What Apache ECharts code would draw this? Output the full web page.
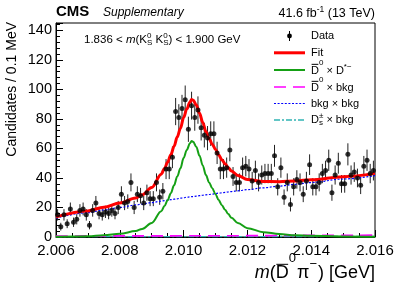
<!DOCTYPE html>
<html><head><meta charset="utf-8">
<script src="https://cdn.jsdelivr.net/npm/echarts@6/dist/echarts.min.js"></script>
<style>html,body{margin:0;padding:0;background:#fff}#c{width:399px;height:286px}</style>
</head><body><div id="c"></div>
<script>
// ---------- data ----------
const binLow = 2.006, binWidth = 0.0001;   // 100 bins of 0.1 MeV
const counts = [15,7,15,9,19,10,12,18,19,15,
  8,18,23,16,15,17,16,18,16,20,
  29,23,24,37,20,29,28,23,30,26,
  26,37,27,31,46,46,54,85,81,87,
  93,73,89,81,86,74,69,67,70,70,
  57,46,46,47,59,41,37,37,47,48,
  46,38,45,37,42,43,43,43,55,34,
  47,27,37,22,34,39,37,29,38,49,
  34,34,37,43,45,52,30,42,50,36,
  36,56,42,44,40,35,48,52,43,45];
const curveX = [2.0060,2.0070,2.0075,2.0080,2.0085,2.0087,2.0090,2.0093,2.0094,2.0095,2.0096,2.0097,2.0098,2.0099,
  2.0100,2.0101,2.0102,2.01025,2.0103,2.0104,2.0105,2.0106,2.0107,2.0108,2.0109,2.0110,2.0111,2.0112,2.0113,2.0114,
  2.0115,2.0117,2.0120,2.0125,2.0130,2.0135,2.0140,2.0150,2.0160];
const fitY = [13.6,17.7,20.2,23.0,26.5,28.6,33.6,42.6,46.4,50.7,55.8,61.4,67.7,73.6,
  80.9,86.7,91.5,93.1,92.7,89.5,83.8,77.6,71.4,66.6,62.9,59.3,55.6,52.3,49.6,46.9,
  44.7,41.7,39.0,37.6,37.5,38.0,38.8,40.9,43.1];
const sigY = [0.1,0.5,1.2,2.2,4.0,5.5,9.5,17.5,21,25,29.7,35,41,46.5,
  53.5,59,63.5,65,64.5,61,55,48.5,42,37,33,29,25,21.5,18.5,15.5,
  13,9.5,6,3.3,2,1.2,0.8,0.4,0.2];
const bkgY = [12.8,16.5,18.3,20,21.7,22.3,23.3,24.3,24.6,24.9,25.3,25.6,25.9,26.3,
  26.6,26.9,27.2,27.3,27.4,27.7,28,28.3,28.6,28.8,29.1,29.4,29.7,29.9,30.2,30.5,
  30.8,31.3,32.1,33.3,34.5,35.7,36.9,39.3,41.6];
const dbkgX = [2.006,2.008,2.010,2.012,2.014,2.016];
const dbkgY = [0.7,0.75,0.8,0.9,1.1,1.3];
const dsX = [2.006,2.011,2.016];
const dsY = [0.2,0.3,0.4];
const xTickLabels = ['2.006','2.008','2.010','2.012','2.014','2.016'];

// ---------- helpers ----------
const FONT = "'Liberation Sans', Arial, Helvetica, sans-serif";
const ctx = document.createElement('canvas').getContext('2d');
function fontStr(p, base){ return (p.it?'italic ':'') + (p.b?'bold ':'') + (p.s||base) + 'px ' + FONT; }
function meas(p, base){ ctx.font = fontStr(p, base); return ctx.measureText(p.t).width; }
function norm(p){ return typeof p === 'string' ? {t:p} : p; }
function textRow(x, y, pieces, base, align, color){
  color = color || '#000';
  pieces = pieces.map(norm);
  const widths = pieces.map(p => (p.stack ? Math.max.apply(null, p.stack.map(q=>meas(q, base))) : meas(p, base)) + (p.gap||0));
  const total = widths.reduce((a,b)=>a+b,0);
  let cx = align==='right' ? x-total : (align==='center' ? x-total/2 : x);
  const els = [];
  pieces.forEach((p,i)=>{
    (p.stack || [p]).forEach(q=>{
      const s = q.s || base, yy = y + (q.dy||0);
      els.push({type:'text', silent:true, x:cx, y:yy,
        style:{text:q.t, font:fontStr(q, base), fill:color, align:'left', verticalAlign:'middle'}});
      if (q.ov){
        const oy = yy - 0.36*s - 2.2;
        els.push({type:'line', silent:true, shape:{x1:cx+0.6, y1:oy, x2:cx+meas(q,base)-0.6, y2:oy},
          style:{stroke:color, lineWidth:1}});
      }
    });
    cx += widths[i];
  });
  return els;
}
const pair = (xs, ys) => xs.map((x,i)=>[x, ys[i]]);

// ---------- graphics: titles & legend ----------
let G = [];
G = G.concat(textRow(56, 11.9, [{t:'CMS', b:true}], 15, 'left'));
G = G.concat(textRow(103, 13, [{t:'Supplementary', it:true}], 12, 'left'));
G = G.concat(textRow(375, 13.4, ['41.6 fb', {t:'-1', s:8.5, dy:-4}, ' (13 TeV)'], 12.5, 'right'));
G = G.concat(textRow(84, 40.2, ['1.836 < ', {t:'m', it:true}, '(K', {stack:[{t:'0', s:8, dy:-4.4},{t:'S', s:8, dy:2.2}]},
  ' K', {stack:[{t:'0', s:8, dy:-4.4},{t:'S', s:8, dy:2.2}]}, ') < 1.900 GeV'], 11.5, 'left'));
// y title
G.push({type:'text', silent:true, x:12.5, y:22, rotation:Math.PI/2,
  style:{text:'Candidates / 0.1 MeV', font:'14px '+FONT, fill:'#000', align:'right', verticalAlign:'middle'}});
// x title
G = G.concat(textRow(375, 273, [{t:'m', it:true}, '(', {t:'D', ov:true}, {t:'0', s:13, dy:-14.5, gap:1}, 'π', {t:'−', s:13, dy:-9, gap:1}, ') [GeV]'], 18, 'right'));

// legend
const LX1 = 274, LX2 = 305, TX = 311;
const rows = [36, 52.8, 70, 87, 103.5, 120];
G.push({type:'line', silent:true, shape:{x1:289.5, y1:rows[0]-5, x2:289.5, y2:rows[0]+5}, style:{stroke:'#000', lineWidth:1}});
G.push({type:'circle', silent:true, shape:{cx:289.5, cy:rows[0], r:2.4}, style:{fill:'#000'}});
G.push({type:'line', silent:true, shape:{x1:LX1, y1:rows[1], x2:LX2, y2:rows[1]}, style:{stroke:'#ff0000', lineWidth:3}});
G.push({type:'line', silent:true, shape:{x1:LX1, y1:rows[2], x2:LX2, y2:rows[2]}, style:{stroke:'#15a015', lineWidth:2}});
G.push({type:'line', silent:true, shape:{x1:LX1, y1:rows[3], x2:LX2, y2:rows[3]}, style:{stroke:'#ff00ff', lineWidth:1.6, lineDash:[12,7]}});
G.push({type:'line', silent:true, shape:{x1:LX1, y1:rows[4], x2:LX2, y2:rows[4]}, style:{stroke:'#0000ff', lineWidth:1.2, lineDash:[2,1.6]}});
G.push({type:'line', silent:true, shape:{x1:LX1, y1:rows[5], x2:LX2, y2:rows[5]}, style:{stroke:'#30b4b4', lineWidth:1.3, lineDash:[6,2,2,2]}});
G = G.concat(textRow(TX, rows[0], ['Data'], 11, 'left'));
G = G.concat(textRow(TX, rows[1], ['Fit'], 11, 'left'));
G = G.concat(textRow(TX, rows[2]+0.5, [{t:'D', ov:true}, {t:'0', s:8, dy:-8}, ' × D', {t:'*−', s:8, dy:-4}], 11, 'left'));
G = G.concat(textRow(TX, rows[3]+0.5, [{t:'D', ov:true}, {t:'0', s:8, dy:-8}, ' × bkg'], 11, 'left'));
G = G.concat(textRow(TX, rows[4], ['bkg × bkg'], 11, 'left'));
G = G.concat(textRow(TX, rows[5], ['D', {stack:[{t:'±', s:8, dy:-4},{t:'s', s:8, dy:2.5}]}, ' × bkg'], 11, 'left'));

// ---------- chart ----------
const pts = counts.map((c,i)=>[binLow + binWidth*(i+0.5), c, Math.sqrt(c)]);
const chart = echarts.init(document.getElementById('c'), null, {renderer:'canvas'});
const lineSeries = (name, data, color, width, dash, z) => ({
  name, type:'line', data, symbol:'none', showSymbol:false, smooth:0.35, smoothMonotone:'x', z, silent:true,
  lineStyle:{color, width, type:dash||'solid'}, emphasis:{disabled:true}
});
chart.setOption({
  animation:false,
  grid:{left:56, right:24, top:23, bottom:49, show:true, borderColor:'#000', borderWidth:1, backgroundColor:'transparent'},
  xAxis:{type:'value', min:2.006, max:2.016, interval:0.002,
    axisLine:{show:true, onZero:false, lineStyle:{color:'#000', width:1}},
    axisTick:{show:true, inside:true, length:7, lineStyle:{color:'#000', width:1}},
    minorTick:{show:true, splitNumber:4, length:4, lineStyle:{color:'#000', width:1}},
    splitLine:{show:false}, minorSplitLine:{show:false},
    axisLabel:{color:'#000', fontSize:15, fontFamily:FONT, margin:6, showMinLabel:true, showMaxLabel:true,
      formatter:(v)=>{ const k = Math.round((v-2.006)/0.002); return xTickLabels[k] || ''; }}},
  yAxis:{type:'value', min:0, max:145, interval:20,
    axisLine:{show:true, lineStyle:{color:'#000', width:1}},
    axisTick:{show:true, inside:true, length:7, lineStyle:{color:'#000', width:1}},
    minorTick:{show:true, splitNumber:5, length:4, lineStyle:{color:'#000', width:1}},
    splitLine:{show:false}, minorSplitLine:{show:false},
    axisLabel:{color:'#000', fontSize:14.5, fontFamily:FONT, margin:4, showMaxLabel:false,
      formatter:(v)=> (v % 20 === 0 ? String(v) : '')}},
  series:[
    {type:'custom', data:pts, z:2, silent:true, clip:true,
      renderItem:(params, api)=>{
        const x = api.value(0), y = api.value(1), e = api.value(2);
        const a = api.coord([x, y-e]), b = api.coord([x, y+e]);
        return {type:'line', shape:{x1:a[0], y1:a[1], x2:b[0], y2:b[1]}, style:{stroke:'#222', lineWidth:1}};
      }},
    lineSeries('dsbkg', pair(dsX, dsY), '#30b4b4', 1.3, [6,2,2,2], 3),
    lineSeries('dbkg', pair(dbkgX, dbkgY), '#ff00ff', 1.6, [12,7], 3),
    lineSeries('bkg', pair(curveX, bkgY), '#0000ff', 1.2, [2,1.6], 3),
    lineSeries('sig', pair(curveX, sigY), '#15a015', 2, 'solid', 4),
    lineSeries('fit', pair(curveX, fitY), '#ff0000', 3, 'solid', 5),
    {type:'scatter', data:pts.map(p=>[p[0], p[1]]), symbol:'circle', symbolSize:5, z:6, silent:true,
      itemStyle:{color:'#000'}, emphasis:{disabled:true}}
  ],
  graphic:{elements:G}
});
</script></body></html>
